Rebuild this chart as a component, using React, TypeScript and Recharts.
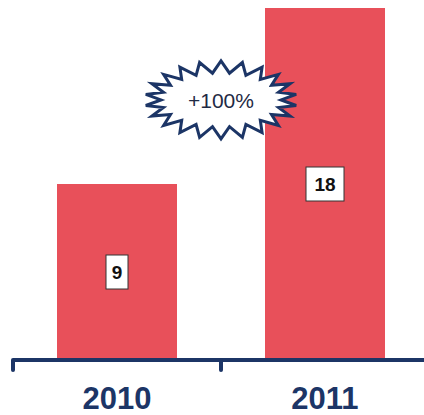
import React from "react";
import { Bar, BarChart, LabelList, ReferenceDot, XAxis, YAxis } from "recharts";

const years = ["2010", "2011"];
const values = [9, 18];
const growthLabel = "+100%";

const chartData = years.map((year, i) => ({ year, value: values[i] }));

const RED = "#E8505A";
const NAVY = "#1C3566";
const CHART_W = 430;
const CHART_H = 415;
const MARGIN = { top: 8, right: 1, bottom: 0, left: 13 };
const BAND = (CHART_W - MARGIN.left - MARGIN.right) / years.length;

// white box with the value in the middle of each bar
const ValueBox = (props: any) => {
  const { x, y, width, height, value } = props;
  const cx = x + width / 2;
  const cy = y + height / 2;
  const w = String(value).length > 1 ? 38 : 22;
  return (
    <g>
      <rect x={cx - w / 2} y={cy - 17} width={w} height={34} fill="#fff" stroke="#333" strokeWidth={1} />
      <text x={cx} y={cy + 7} textAnchor="middle" fontSize={19} fontWeight="bold" fill="#111" fontFamily="Liberation Sans, Arial, sans-serif">
        {value}
      </text>
    </g>
  );
};

const YearTick = (props: any) => {
  const { x, y, payload } = props;
  const left = x - BAND / 2;
  return (
    <g>
      <path d={`M${left},${y - 8} L${left},${y + 2}`} stroke={NAVY} strokeWidth={4} strokeLinecap="round" />
      <text x={x} y={y + 41} textAnchor="middle" fontSize={31} fontWeight="bold" fill={NAVY} fontFamily="Liberation Sans, Arial, sans-serif">
        {payload.value}
      </text>
    </g>
  );
};

const Starburst = (props: any) => {
  const cx = props.cx - BAND / 2;
  const cy = props.cy;
  const n = 22;
  const pts: string[] = [];
  for (let i = 0; i < n * 2; i++) {
    const a = (Math.PI * i) / n - Math.PI / 2;
    const outer = i % 2 === 0;
    const rx = outer ? 76 : 60;
    const ry = outer ? 39 : 27;
    pts.push(`${(cx + rx * Math.cos(a)).toFixed(1)},${(cy + ry * Math.sin(a)).toFixed(1)}`);
  }
  return (
    <g>
      <polygon points={pts.join(" ")} fill="#fff" stroke={NAVY} strokeWidth={3} strokeLinejoin="miter" />
      <text x={cx} y={cy + 8} textAnchor="middle" fontSize={21} fill="#1F2A44" fontFamily="Liberation Sans, Arial, sans-serif">
        {growthLabel}
      </text>
    </g>
  );
};

export default function App() {
  return (
    <div style={{ position: "absolute", left: 0, top: 0, width: 424, height: 415, overflow: "hidden", background: "#fff" }}>
      <BarChart width={CHART_W} height={CHART_H} data={chartData} margin={MARGIN} barCategoryGap={44}>
        <XAxis
          dataKey="year"
          height={55}
          tickLine={false}
          axisLine={{ stroke: NAVY, strokeWidth: 4 }}
          tick={<YearTick />}
          interval={0}
        />
        <YAxis hide domain={[0, 18]} />
        <Bar dataKey="value" fill={RED} isAnimationActive={false}>
          <LabelList dataKey="value" content={<ValueBox />} />
        </Bar>
        <ReferenceDot x="2011" y={13.3} r={0} shape={<Starburst />} ifOverflow="visible" />
      </BarChart>
    </div>
  );
}
